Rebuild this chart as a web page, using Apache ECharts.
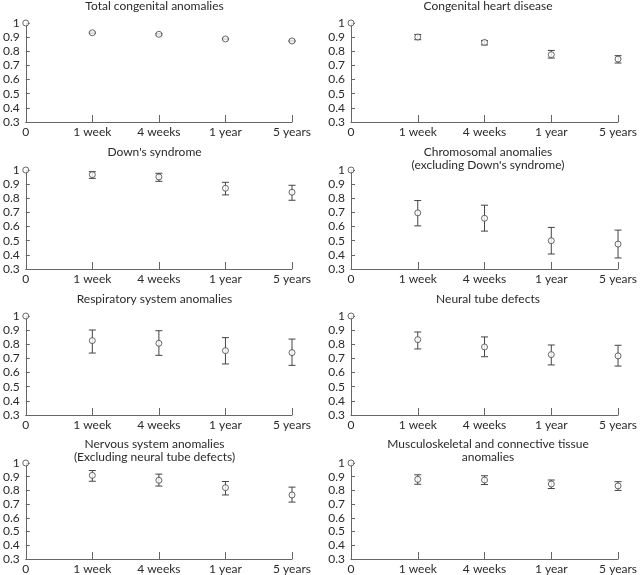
<!DOCTYPE html>
<html>
<head>
<meta charset="utf-8">
<script src="https://cdn.jsdelivr.net/npm/echarts@6/dist/echarts.min.js"></script>
<style>
html,body{margin:0;padding:0;background:#fff;}
#chart{width:640px;height:575px;}
</style>
</head>
<body>
<div id="chart"></div>
<script>
const categories = ['0', '1 week', '4 weeks', '1 year', '5 years'];
const yTicks = [0.3, 0.4, 0.5, 0.6, 0.7, 0.8, 0.9, 1];

const titles = [
  'Total congenital anomalies',
  'Congenital heart disease',
  "Down's syndrome",
  "Chromosomal anomalies\n(excluding Down's syndrome)",
  'Respiratory system anomalies',
  'Neural tube defects',
  'Nervous system anomalies\n(Excluding neural tube defects)',
  'Musculoskeletal and connective tissue\nanomalies'
];

const totalVal = [1, 0.931, 0.920, 0.887, 0.873];
const totalLow = [null, 0.926, 0.915, 0.882, 0.868];
const totalHigh = [null, 0.936, 0.925, 0.892, 0.878];

const heartVal = [1, 0.901, 0.863, 0.776, 0.745];
const heartLow = [null, 0.882, 0.845, 0.752, 0.717];
const heartHigh = [null, 0.919, 0.875, 0.806, 0.769];

const downVal = [1, 0.967, 0.951, 0.871, 0.843];
const downLow = [null, 0.941, 0.920, 0.824, 0.786];
const downHigh = [null, 0.988, 0.977, 0.913, 0.892];

const chromVal = [1, 0.697, 0.659, 0.500, 0.476];
const chromLow = [null, 0.605, 0.568, 0.406, 0.378];
const chromHigh = [null, 0.784, 0.751, 0.594, 0.575];

const respVal = [1, 0.826, 0.807, 0.755, 0.741];
const respLow = [null, 0.738, 0.722, 0.661, 0.651];
const respHigh = [null, 0.901, 0.896, 0.847, 0.837];

const ntdVal = [1, 0.833, 0.781, 0.727, 0.718];
const ntdLow = [null, 0.767, 0.712, 0.654, 0.646];
const ntdHigh = [null, 0.887, 0.852, 0.795, 0.793];

const nervVal = [1, 0.910, 0.874, 0.820, 0.767];
const nervLow = [null, 0.867, 0.832, 0.767, 0.715];
const nervHigh = [null, 0.945, 0.919, 0.865, 0.824];

const muscVal = [1, 0.881, 0.876, 0.847, 0.833];
const muscLow = [null, 0.845, 0.843, 0.814, 0.800];
const muscHigh = [null, 0.914, 0.907, 0.876, 0.864];

const panels = [
  [totalVal, totalLow, totalHigh],
  [heartVal, heartLow, heartHigh],
  [downVal, downLow, downHigh],
  [chromVal, chromLow, chromHigh],
  [respVal, respLow, respHigh],
  [ntdVal, ntdLow, ntdHigh],
  [nervVal, nervLow, nervHigh],
  [muscVal, muscLow, muscHigh]
];

const FONT = 'Lato';
const TXT = '#2a2a2a';
const AX = '#666';
const colLeft = [17, 351];
const colWidth = [275, 274];
const rowTop = [23, 170, 316, 463];
const rowH = [99, 99, 99, 98];
const titleTop = [0, 146, 293, 438];

const grids = [], xAxes = [], yAxes = [], series = [], titleArr = [];
panels.forEach((p, i) => {
  const col = i % 2, row = Math.floor(i / 2);
  grids.push({left: colLeft[col], top: rowTop[row], width: colWidth[col], height: rowH[row], containLabel: false});
  titleArr.push({
    text: titles[i],
    left: colLeft[col] + colWidth[col] / 2,
    top: titleTop[row],
    padding: 0,
    textAlign: 'center',
    textStyle: {fontFamily: FONT, fontSize: 12, fontWeight: 'normal', color: TXT, lineHeight: 13}
  });
  xAxes.push({
    type: 'category', gridIndex: i, data: categories, boundaryGap: false,
    axisLine: {lineStyle: {color: AX, width: 1}},
    axisTick: {inside: true, length: 7, alignWithLabel: true, lineStyle: {color: AX}},
    axisLabel: {fontFamily: FONT, fontSize: 12, color: TXT, margin: 4, interval: 0},
    splitLine: {show: false}
  });
  yAxes.push({
    type: 'value', gridIndex: i, min: yTicks[0], max: yTicks[yTicks.length - 1], interval: 0.1,
    axisLine: {show: true, lineStyle: {color: AX, width: 1}},
    axisTick: {show: true, inside: true, length: 4, lineStyle: {color: AX}},
    axisLabel: {fontFamily: FONT, fontSize: 12, color: TXT, margin: 6,
      formatter: v => (Math.abs(v - 1) < 1e-9 ? '1' : v.toFixed(1))},
    splitLine: {show: false}
  });
  const ebData = [];
  p[0].forEach((v, k) => { if (p[1][k] != null) ebData.push([k, p[1][k], p[2][k]]); });
  series.push({
    type: 'custom', xAxisIndex: i, yAxisIndex: i, data: ebData,
    encode: {x: 0, y: [1, 2]},
    renderItem: (params, api) => {
      const lo = api.coord([api.value(0), api.value(1)]);
      const hi = api.coord([api.value(0), api.value(2)]);
      const hw = 3.5;
      const st = {stroke: '#444', lineWidth: 1, fill: null};
      return {type: 'group', children: [
        {type: 'line', shape: {x1: lo[0], y1: lo[1], x2: hi[0], y2: hi[1]}, style: st},
        {type: 'line', shape: {x1: lo[0] - hw, y1: lo[1], x2: lo[0] + hw, y2: lo[1]}, style: st},
        {type: 'line', shape: {x1: hi[0] - hw, y1: hi[1], x2: hi[0] + hw, y2: hi[1]}, style: st}
      ]};
    },
    z: 2, silent: true
  });
  series.push({
    type: 'scatter', xAxisIndex: i, yAxisIndex: i, data: p[0],
    symbol: 'circle', symbolSize: 6,
    itemStyle: {color: '#fff', borderColor: '#444', borderWidth: 1},
    z: 3, silent: true
  });
});

const chart = echarts.init(document.getElementById('chart'), null, {renderer: 'canvas'});
chart.setOption({
  animation: false,
  backgroundColor: '#fff',
  title: titleArr,
  grid: grids,
  xAxis: xAxes,
  yAxis: yAxes,
  series: series
});
</script>
</body>
</html>
